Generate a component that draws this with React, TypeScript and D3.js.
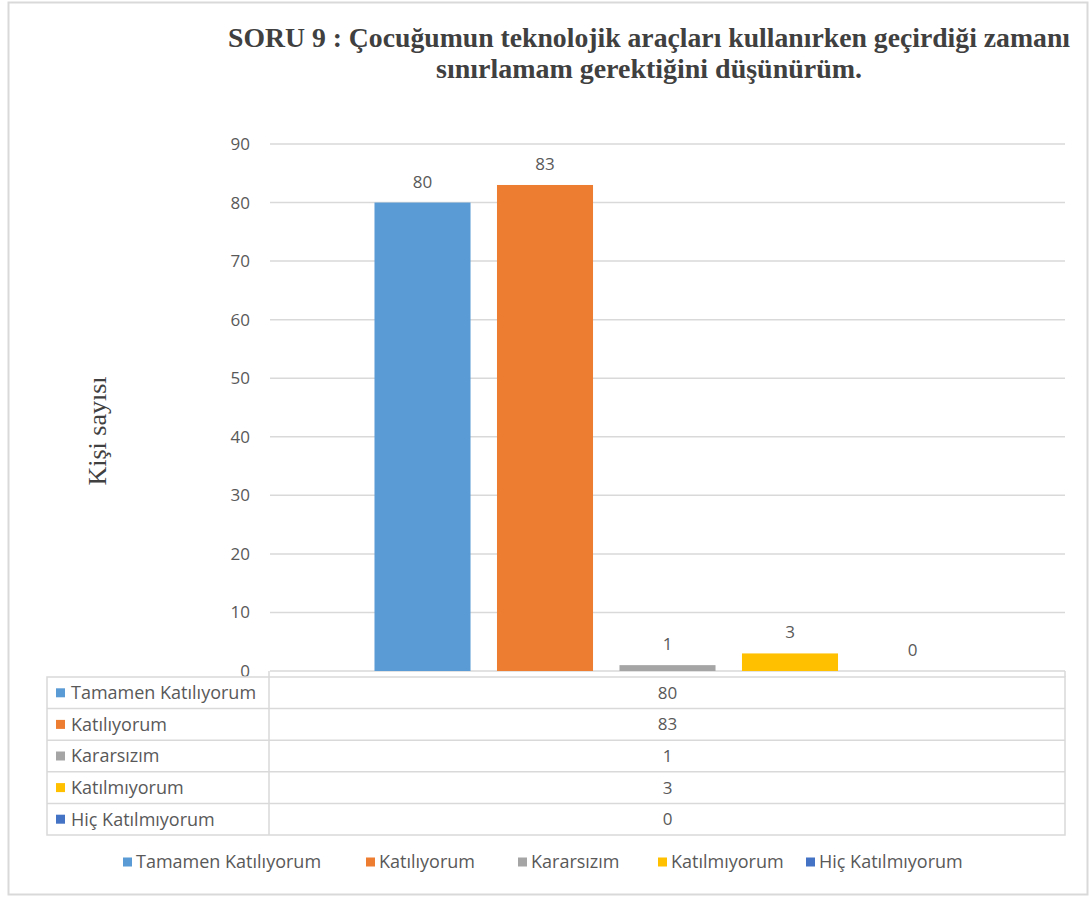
import React, { useEffect, useRef } from "react";
import * as d3 from "d3";

const series = ["Tamamen Katılıyorum", "Katılıyorum", "Kararsızım", "Katılmıyorum", "Hiç Katılmıyorum"];
const values = [80, 83, 1, 3, 0];
const colors = ["#5B9BD5", "#ED7D31", "#A5A5A5", "#FFC000", "#4472C4"];
const yTicks = [0, 10, 20, 30, 40, 50, 60, 70, 80, 90];
const titleLines = [
  "SORU 9 : Çocuğumun teknolojik araçları kullanırken geçirdiği zamanı",
  "sınırlamam gerektiğini düşünürüm.",
];
const yTitle = "Kişi sayısı";

export default function App() {
  const ref = useRef<SVGSVGElement>(null);

  useEffect(() => {
    const width = 1089;
    const height = 897;
    const plot = { left: 270, right: 1065, top: 144, bottom: 671 };
    const tableLeft = 47;
    const rowH = 31.6;
    const tableTop = 677;
    const font = "'Open Sans', sans-serif";
    const fs = 17;
    const fsLegend = 18;
    const textColor = "#595959";
    const lineColor = "#d9d9d9";

    const svg = d3.select(ref.current);
    svg.selectAll("*").remove();

    svg.append("rect")
      .attr("x", 8.5).attr("y", 2.5)
      .attr("width", width - 10).attr("height", height - 5)
      .attr("fill", "white").attr("stroke", lineColor).attr("stroke-width", 2);

    // title (condensed serif, like the original)
    const titleW = [842, 426];
    titleLines.forEach((t, i) => {
      svg.append("text")
        .attr("x", 649).attr("y", 47 + i * 31)
        .attr("text-anchor", "middle")
        .attr("font-family", "'Liberation Serif', serif")
        .attr("font-weight", "bold")
        .attr("font-size", 28)
        .attr("textLength", titleW[i])
        .attr("lengthAdjust", "spacingAndGlyphs")
        .attr("fill", "#404040")
        .text(t);
    });

    const y = d3.scaleLinear().domain([0, 90]).range([plot.bottom, plot.top]);
    const x = d3.scaleBand().domain(series)
      .range([plot.left, plot.right])
      .paddingInner(0.216).paddingOuter(0.853);

    const g = svg.append("g");
    g.selectAll("line.grid").data(yTicks).enter().append("line")
      .attr("x1", plot.left).attr("x2", plot.right)
      .attr("y1", d => y(d)).attr("y2", d => y(d))
      .attr("stroke", lineColor).attr("stroke-width", 1.5);

    g.selectAll("text.tick").data(yTicks).enter().append("text")
      .attr("x", 250).attr("y", d => y(d))
      .attr("dy", "0.35em")
      .attr("text-anchor", "end")
      .attr("font-family", font).attr("font-size", fs)
      .attr("fill", textColor)
      .text(d => d);

    g.selectAll("rect.bar").data(values).enter().append("rect")
      .attr("x", (d, i) => x(series[i]) as number)
      .attr("y", d => y(d))
      .attr("width", x.bandwidth())
      .attr("height", d => plot.bottom - y(d))
      .attr("fill", (d, i) => colors[i]);

    g.selectAll("text.label").data(values).enter().append("text")
      .attr("x", (d, i) => (x(series[i]) as number) + x.bandwidth() / 2)
      .attr("y", d => y(d) - 21)
      .attr("dy", "0.35em")
      .attr("text-anchor", "middle")
      .attr("font-family", font).attr("font-size", fs)
      .attr("fill", textColor)
      .text(d => d);

    svg.append("text")
      .attr("transform", `translate(106,431) rotate(-90)`)
      .attr("text-anchor", "middle")
      .attr("font-family", "'Liberation Serif', serif")
      .attr("font-size", 26)
      .attr("fill", "#404040")
      .text(yTitle);

    // data table
    const table = svg.append("g");
    const tableBottom = tableTop + rowH * series.length;
    table.append("rect")
      .attr("x", tableLeft).attr("y", tableTop)
      .attr("width", plot.right - tableLeft).attr("height", tableBottom - tableTop)
      .attr("fill", "none").attr("stroke", lineColor).attr("stroke-width", 1.5);
    table.append("line")
      .attr("x1", plot.left - 1).attr("x2", plot.left - 1)
      .attr("y1", plot.bottom).attr("y2", tableBottom)
      .attr("stroke", lineColor).attr("stroke-width", 1.5);
    table.append("line")
      .attr("x1", plot.right).attr("x2", plot.right)
      .attr("y1", plot.bottom).attr("y2", tableTop)
      .attr("stroke", lineColor).attr("stroke-width", 1.5);
    series.forEach((s, i) => {
      const ry = tableTop + rowH * i;
      if (i > 0) {
        table.append("line")
          .attr("x1", tableLeft).attr("x2", plot.right)
          .attr("y1", ry).attr("y2", ry)
          .attr("stroke", lineColor).attr("stroke-width", 1.5);
      }
      table.append("rect")
        .attr("x", 56).attr("y", ry + rowH / 2 - 4.5)
        .attr("width", 9).attr("height", 9)
        .attr("fill", colors[i]);
      table.append("text")
        .attr("x", 71).attr("y", ry + rowH / 2)
        .attr("dy", "0.35em")
        .attr("font-family", font).attr("font-size", fsLegend)
        .attr("fill", textColor)
        .text(s);
      table.append("text")
        .attr("x", (plot.left + plot.right) / 2).attr("y", ry + rowH / 2)
        .attr("dy", "0.35em")
        .attr("text-anchor", "middle")
        .attr("font-family", font).attr("font-size", fs)
        .attr("fill", textColor)
        .text(values[i]);
    });

    // legend
    const legendX = [123, 366, 518, 658, 806];
    series.forEach((s, i) => {
      const lg = svg.append("g").attr("transform", `translate(${legendX[i]},862)`);
      lg.append("rect").attr("x", 0).attr("y", -4.5).attr("width", 9).attr("height", 9).attr("fill", colors[i]);
      lg.append("text")
        .attr("x", 13).attr("y", 0).attr("dy", "0.35em")
        .attr("font-family", font).attr("font-size", fsLegend)
        .attr("fill", textColor)
        .text(s);
    });
  }, []);

  return (
    <svg
      ref={ref}
      width={1089}
      height={897}
      style={{ position: "absolute", left: 0, top: 0, background: "white" }}
    />
  );
}
